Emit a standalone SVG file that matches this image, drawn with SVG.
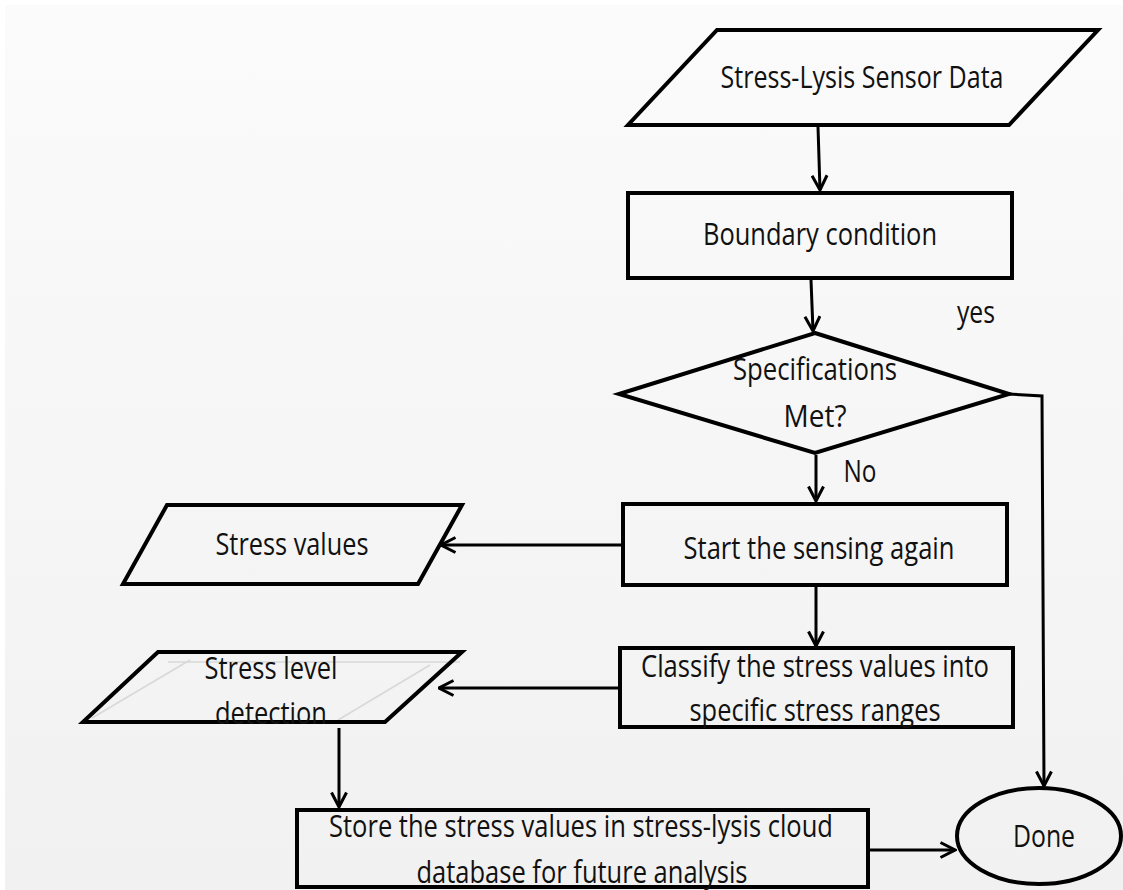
<svg xmlns="http://www.w3.org/2000/svg" width="1123" height="890" viewBox="0 0 1123 890">
  <defs>
    <linearGradient id="bg" x1="0" y1="0" x2="0" y2="1">
      <stop offset="0" stop-color="#fbfbfb"/>
      <stop offset="1" stop-color="#f1f1f1"/>
    </linearGradient>
    <marker id="arr" viewBox="0 0 18 18" refX="16.5" refY="9" markerWidth="18" markerHeight="18" markerUnits="userSpaceOnUse" orient="auto">
      <path d="M2,1.5 L16.5,9 L2,16.5" fill="none" stroke="#000" stroke-width="3" stroke-linejoin="miter"/>
    </marker>
  </defs>
  <style>
    .shape { fill: none; stroke: #000; stroke-width: 4; stroke-linejoin: miter; }
    .conn { fill: none; stroke: #000; stroke-width: 3; }
    .txt { font-family: "Open Sans", "Liberation Sans", sans-serif; font-size: 31px; fill: #111; text-anchor: middle; }
    .gloss { fill: none; stroke: #d8d8d8; stroke-width: 1.5; }
  </style>
  <rect x="0" y="0" width="1123" height="890" fill="#ffffff"/>
  <rect x="5" y="5" width="1118" height="885" fill="url(#bg)"/>

  <g id="connectors">
    <line class="conn" x1="818" y1="127" x2="820" y2="190" marker-end="url(#arr)"/>
    <line class="conn" x1="811" y1="280" x2="813" y2="331" marker-end="url(#arr)"/>
    <line class="conn" x1="816" y1="455" x2="816" y2="501" marker-end="url(#arr)"/>
    <line class="conn" x1="816" y1="587" x2="816" y2="646" marker-end="url(#arr)"/>
    <line class="conn" x1="621" y1="545" x2="441" y2="545" marker-end="url(#arr)"/>
    <line class="conn" x1="618" y1="688" x2="439" y2="688" marker-end="url(#arr)"/>
    <line class="conn" x1="339" y1="728" x2="339" y2="807" marker-end="url(#arr)"/>
    <line class="conn" x1="870" y1="850" x2="955" y2="850" marker-end="url(#arr)" stroke-width="4.5"/>
    <path class="conn" d="M1008,394 L1042,396 L1044,786" marker-end="url(#arr)"/>
    <text class="txt" x="976" y="323" textLength="38" lengthAdjust="spacingAndGlyphs">yes</text>
    <text class="txt" x="860" y="482" textLength="33" lengthAdjust="spacingAndGlyphs">No</text>
  </g>

  <g id="node-sensor-data">
    <polygon class="shape" points="717,30 1098,30 1009,125 628,125"/>
    <text class="txt" x="862" y="88" textLength="283" lengthAdjust="spacingAndGlyphs">Stress-Lysis Sensor Data</text>
  </g>

  <g id="node-boundary">
    <rect class="shape" x="628" y="193" width="384" height="85"/>
    <text class="txt" x="820" y="245" textLength="234" lengthAdjust="spacingAndGlyphs">Boundary condition</text>
  </g>

  <g id="node-specifications">
    <polygon class="shape" points="815,333 1009,394 815,453 619,394"/>
    <text class="txt" x="815" y="380" textLength="164" lengthAdjust="spacingAndGlyphs">Specifications</text>
    <text class="txt" x="815" y="427" textLength="63" lengthAdjust="spacingAndGlyphs">Met?</text>
  </g>

  <g id="node-start-sensing">
    <rect class="shape" x="623" y="504" width="384" height="81"/>
    <text class="txt" x="819" y="559" textLength="271" lengthAdjust="spacingAndGlyphs">Start the sensing again</text>
  </g>

  <g id="node-stress-values">
    <polygon class="shape" points="167,505 462,505 418,584 123,584"/>
    <text class="txt" x="292" y="555" textLength="153" lengthAdjust="spacingAndGlyphs">Stress values</text>
  </g>

  <g id="node-classify">
    <rect class="shape" x="620" y="648" width="393" height="79"/>
    <text class="txt" x="815" y="677" textLength="348" lengthAdjust="spacingAndGlyphs">Classify the stress values into</text>
    <text class="txt" x="815" y="721" textLength="251" lengthAdjust="spacingAndGlyphs">specific stress ranges</text>
  </g>

  <g id="node-stress-level">
    <line class="gloss" x1="168" y1="662" x2="460" y2="662"/>
    <line class="gloss" x1="92" y1="718" x2="190" y2="660"/>
    <line class="gloss" x1="338" y1="720" x2="430" y2="665"/>
    <polygon class="shape" points="158,652 462,652 385,722 83,722"/>
    <text class="txt" x="271" y="679" textLength="133" lengthAdjust="spacingAndGlyphs">Stress level</text>
    <text class="txt" x="271" y="724" textLength="112" lengthAdjust="spacingAndGlyphs">detection</text>
  </g>

  <g id="node-store">
    <rect class="shape" x="297" y="810" width="571" height="77"/>
    <text class="txt" x="581" y="837" textLength="504" lengthAdjust="spacingAndGlyphs">Store the stress values in stress-lysis cloud</text>
    <text class="txt" x="582" y="883" textLength="331" lengthAdjust="spacingAndGlyphs">database for future analysis</text>
  </g>

  <g id="node-done">
    <ellipse class="shape" cx="1039" cy="836" rx="82" ry="48"/>
    <text class="txt" x="1044" y="847" textLength="62" lengthAdjust="spacingAndGlyphs">Done</text>
  </g>
</svg>
